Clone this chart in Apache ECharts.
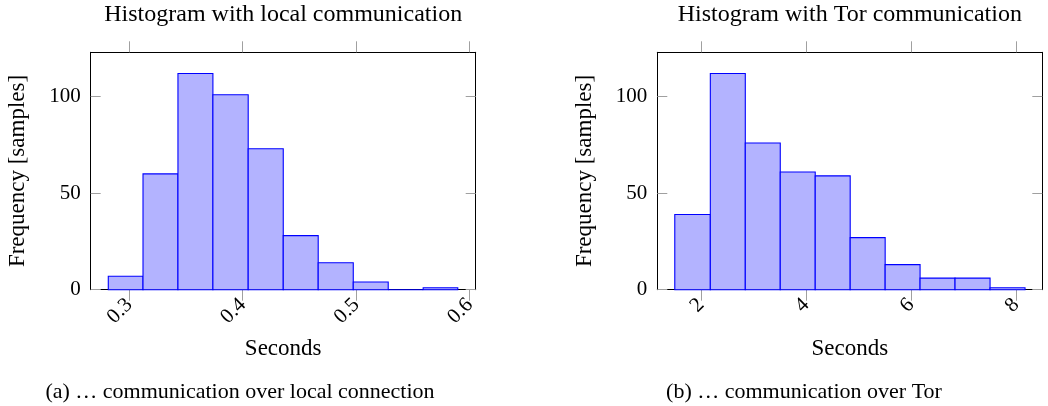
<!DOCTYPE html>
<html>
<head>
<meta charset="utf-8">
<script src="https://cdn.jsdelivr.net/npm/echarts@6/dist/echarts.min.js"></script>
<style>html,body{margin:0;padding:0;background:#fff;}#c{width:1048px;height:406px;}</style>
</head>
<body>
<div id="c"></div>
<script>
// ---- data ----
const localEdges = [0.2815, 0.3121, 0.3429, 0.3737, 0.4048, 0.4357, 0.4665, 0.4974, 0.5282, 0.5590, 0.5895];
const localCounts = [7, 60, 112, 101, 73, 28, 14, 4, 0, 1];
const torEdges = [1.5, 2.177, 2.843, 3.509, 4.175, 4.841, 5.507, 6.172, 6.838, 7.505, 8.171];
const torCounts = [39, 112, 76, 61, 59, 27, 13, 6, 6, 1];
const localTicks = [0.3, 0.4, 0.5, 0.6];
const torTicks = [2, 4, 6, 8];
const yTicks = [0, 50, 100];
const titles = ['Histogram with local communication', 'Histogram with Tor communication'];
const captions = ['(a) \u2026 communication over local connection', '(b) \u2026 communication over Tor'];
const xName = 'Seconds';
const yName = 'Frequency [samples]';

const FONT = 'Liberation Serif';
const FS = 21;     // tick labels
const FT = 24;     // titles
const FN = 23;     // axis names
const FC = 22;     // captions
const tickColor = '#a0a0a0';

function binsData(edges, counts) {
  return counts.map((c, i) => [edges[i], edges[i + 1], c]);
}

function renderBar(params, api) {
  const x0 = api.value(0), x1 = api.value(1), c = api.value(2);
  const p0 = api.coord([x0, c]);
  const p1 = api.coord([x1, 0]);
  return {
    type: 'rect',
    shape: { x: p0[0], y: p0[1], width: p1[0] - p0[0], height: p1[1] - p0[1] },
    style: { fill: 'rgb(179,179,255)', stroke: '#0000ff', lineWidth: 1.1 }
  };
}

const grids = [
  { left: 90.7, top: 52.3, width: 385, height: 237.4 },
  { left: 657.3, top: 52.3, width: 385, height: 237.4 }
];
const xRanges = [[0.266, 0.6053], [1.167, 8.5]];
const xTickSets = [localTicks, torTicks];

const xAxis = [];
const yAxis = [];
for (let g = 0; g < 2; g++) {
  xAxis.push({
    type: 'value', gridIndex: g, position: 'bottom', min: xRanges[g][0], max: xRanges[g][1],
    axisLine: { show: true, onZero: false, lineStyle: { color: '#000', width: 1 } },
    axisTick: { show: true, inside: false, length: 11, customValues: xTickSets[g], lineStyle: { color: tickColor, width: 1 } },
    axisLabel: { show: true, customValues: xTickSets[g], rotate: 45, margin: 12, fontFamily: FONT, fontSize: FS, color: '#000', formatter: v => String(v) },
    splitLine: { show: false },
    name: xName, nameLocation: 'middle', nameGap: 48,
    nameTextStyle: { fontFamily: FONT, fontSize: FN, color: '#000' }
  });
  xAxis.push({
    type: 'value', gridIndex: g, position: 'top', min: xRanges[g][0], max: xRanges[g][1],
    axisLine: { show: true, onZero: false, lineStyle: { color: '#000', width: 1 } },
    axisTick: { show: true, inside: false, length: 11, customValues: xTickSets[g], lineStyle: { color: tickColor, width: 1 } },
    axisLabel: { show: false },
    splitLine: { show: false }
  });
  yAxis.push({
    type: 'value', gridIndex: g, position: 'left', min: 0, max: 123,
    axisLine: { show: true, onZero: false, lineStyle: { color: '#000', width: 1 } },
    axisTick: { show: true, inside: true, length: 10, customValues: yTicks, lineStyle: { color: tickColor, width: 1 } },
    axisLabel: { show: true, customValues: yTicks, margin: 10, fontFamily: FONT, fontSize: FS, color: '#000' },
    splitLine: { show: false },
    name: yName, nameLocation: 'middle', nameGap: 61,
    nameTextStyle: { fontFamily: FONT, fontSize: FN, color: '#000' }
  });
  yAxis.push({
    type: 'value', gridIndex: g, position: 'right', min: 0, max: 123,
    axisLine: { show: true, onZero: false, lineStyle: { color: '#000', width: 1 } },
    axisTick: { show: true, inside: true, length: 10, customValues: yTicks, lineStyle: { color: tickColor, width: 1 } },
    axisLabel: { show: false },
    splitLine: { show: false }
  });
}

const graphic = [
  { type: 'text', x: 283.2, y: 15, style: { text: titles[0], font: FT + 'px "' + FONT + '"', fill: '#000', textAlign: 'center', textVerticalAlign: 'middle' } },
  { type: 'text', x: 849.8, y: 15, style: { text: titles[1], font: FT + 'px "' + FONT + '"', fill: '#000', textAlign: 'center', textVerticalAlign: 'middle' } },
  { type: 'text', x: 240, y: 392, style: { text: captions[0], font: FC + 'px "' + FONT + '"', fill: '#000', textAlign: 'center', textVerticalAlign: 'middle' } },
  { type: 'text', x: 804, y: 392, style: { text: captions[1], font: FC + 'px "' + FONT + '"', fill: '#000', textAlign: 'center', textVerticalAlign: 'middle' } }
];

const chart = echarts.init(document.getElementById('c'), null, { renderer: 'canvas' });
chart.setOption({
  animation: false,
  backgroundColor: '#fff',
  grid: grids,
  xAxis: xAxis,
  yAxis: yAxis,
  graphic: graphic,
  series: [
    { type: 'custom', xAxisIndex: 0, yAxisIndex: 0, renderItem: renderBar, data: binsData(localEdges, localCounts), encode: { x: [0, 1], y: 2 } },
    { type: 'custom', xAxisIndex: 2, yAxisIndex: 2, renderItem: renderBar, data: binsData(torEdges, torCounts), encode: { x: [0, 1], y: 2 } }
  ]
});
</script>
</body>
</html>
